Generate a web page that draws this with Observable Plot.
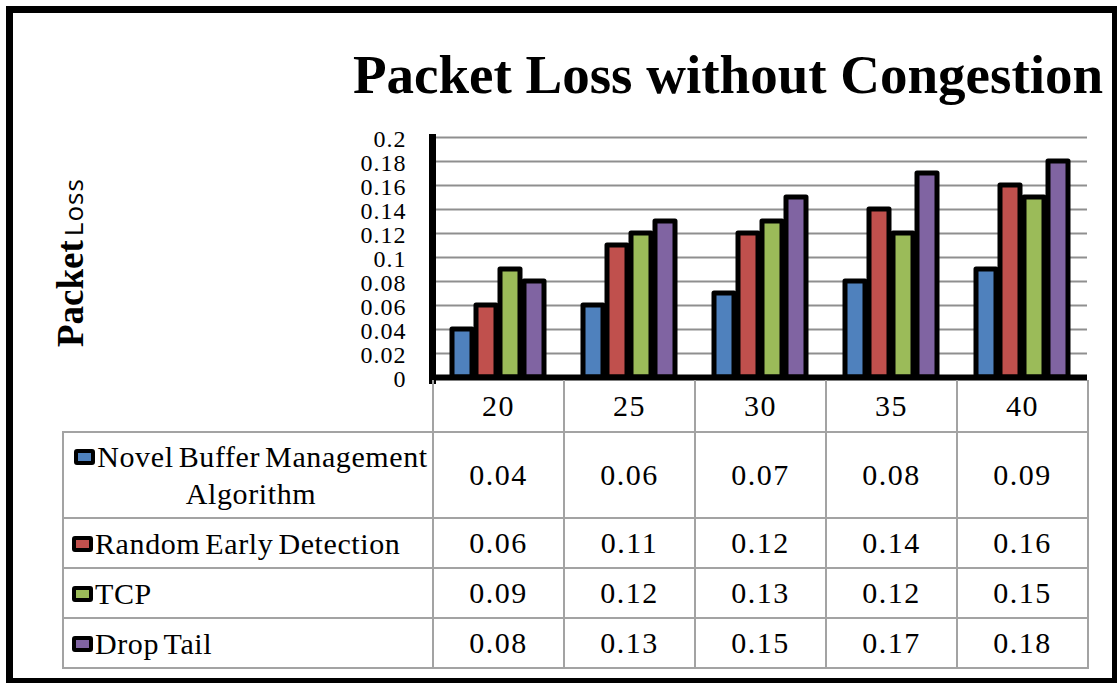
<!DOCTYPE html>
<html>
<head>
<meta charset="utf-8">
<script src="https://cdn.jsdelivr.net/npm/d3@7"></script>
<script src="https://cdn.jsdelivr.net/npm/@observablehq/plot@0.6"></script>
<style>
  html, body { margin: 0; padding: 0; background: #fff; }
  #root { position: relative; width: 1117px; height: 683px; overflow: hidden; background: #fff; }
  #root svg { position: absolute; left: 0; top: 0; }
  .frame { position: absolute; left: 6px; top: 6px; width: 1111px; height: 677px; box-sizing: border-box;
           border: 7px solid #000; border-right-width: 5px; border-bottom-width: 5px; pointer-events: none; }
  .title { position: absolute; left: 340px; width: 776px; top: 47px; text-align: center;
           font: bold 55px/1 "Liberation Serif", "Times New Roman", serif; color: #000; white-space: nowrap; }
  .ylabel { position: absolute; left: 52px; top: 347px; white-space: nowrap; transform: rotate(-90deg);
            transform-origin: 0 0; line-height: 1; color: #000; }
  .ylabel .a { font: bold 37px/1 "Liberation Serif", serif; }
  .ylabel .b { font: 26px/1 "Open Sans", sans-serif; letter-spacing: 1px; }
  table.dt { position: absolute; left: 62px; top: 380px; border-collapse: collapse; table-layout: fixed;
             font: 30px "Liberation Serif", "Times New Roman", serif; color: #000; }
  table.dt td { border: 2px solid #a3a3a3; padding: 0; text-align: center; vertical-align: middle; letter-spacing: 1.5px; }
  table.dt td.corner { border-top: none; border-left: none; }
  table.dt tr.head td { border-top: none; }
  table.dt td.lab { text-align: left; padding-left: 8px; word-spacing: -3px; line-height: 37px; letter-spacing: 0.6px; }
  table.dt td.lab.wrap { text-align: center; padding-left: 6px; padding-right: 0px; }
  .sw { display: inline-block; width: 13px; height: 8px; border: 4px solid #000; border-radius: 3px;
        vertical-align: 2px; margin-right: 2px; }
</style>
</head>
<body>
<div id="root"></div>
<script>
// ---- data ----
const categories = ["20", "25", "30", "35", "40"];
const seriesNames = ["Novel Buffer Management Algorithm", "Random Early Detection", "TCP", "Drop Tail"];
const novelBuffer = [0.04, 0.06, 0.07, 0.08, 0.09];
const randomEarly = [0.06, 0.11, 0.12, 0.14, 0.16];
const tcp = [0.09, 0.12, 0.13, 0.12, 0.15];
const dropTail = [0.08, 0.13, 0.15, 0.17, 0.18];
const seriesColors = ["#4F81BD", "#C0504D", "#9BBB59", "#8064A2"];
const yTicks = [0, 0.02, 0.04, 0.06, 0.08, 0.1, 0.12, 0.14, 0.16, 0.18, 0.2];
const titleText = "Packet Loss without Congestion";

const seriesValues = [novelBuffer, randomEarly, tcp, dropTail];
const data = [];
categories.forEach((c, i) => seriesNames.forEach((s, j) => data.push({category: c, series: s, value: seriesValues[j][i]})));

const root = document.getElementById("root");

const chart = Plot.plot({
  width: 1117,
  height: 683,
  marginTop: 137,
  marginBottom: 306,
  marginLeft: 432,
  marginRight: 30,
  style: {background: "transparent", fontFamily: "'Liberation Serif', 'Times New Roman', serif", color: "#000", overflow: "visible"},
  fx: {domain: categories, padding: 0, axis: null, label: null},
  x: {domain: seriesNames, paddingInner: 0.18, paddingOuter: 0.76, axis: null},
  y: {domain: [0, 0.2], axis: null},
  color: {domain: seriesNames, range: seriesColors},
  marks: [
    Plot.gridY(yTicks, {stroke: "#8f8f8f", strokeOpacity: 1, strokeWidth: 2}),
    Plot.barY(data, {fx: "category", x: "series", y: "value", fill: "series",
                     stroke: "#000", strokeWidth: 5, strokeLinejoin: "round"}),
    Plot.ruleY([0], {stroke: "#000", strokeWidth: 6}),
    Plot.frame({anchor: "left", facetAnchor: "left", stroke: "#000", strokeWidth: 7, insetBottom: -3}),
    Plot.axisY(yTicks, {tickSize: 0, tickPadding: 26, fontSize: 24, dy: 2, label: null,
                        tickFormat: d => String(d)})
  ]
});
chart.querySelectorAll('g[aria-label="y-axis tick label"] text').forEach(el => el.setAttribute("letter-spacing", "1"));
root.appendChild(chart);

// title
const t = document.createElement("div");
t.className = "title";
t.textContent = titleText;
root.appendChild(t);

// y label
const yl = document.createElement("div");
yl.className = "ylabel";
yl.innerHTML = '<span class="a">Packet</span> <span class="b">Loss</span>';
root.appendChild(yl);

// data table
const table = document.createElement("table");
table.className = "dt";
const colg = document.createElement("colgroup");
[370, 131, 131, 131, 131, 131].forEach(w => { const c = document.createElement("col"); c.style.width = w + "px"; colg.appendChild(c); });
table.appendChild(colg);
const head = document.createElement("tr");
head.className = "head";
head.style.height = "52px";
const corner = document.createElement("td");
corner.className = "corner";
head.appendChild(corner);
categories.forEach(c => { const td = document.createElement("td"); td.textContent = c; head.appendChild(td); });
table.appendChild(head);
const rowHeights = [86, 50, 50, 50];
seriesNames.forEach((s, j) => {
  const tr = document.createElement("tr");
  tr.style.height = rowHeights[j] + "px";
  const lab = document.createElement("td");
  lab.className = "lab" + (j === 0 ? " wrap" : "");
  const sw = document.createElement("span");
  sw.className = "sw";
  sw.style.background = seriesColors[j];
  lab.appendChild(sw);
  lab.appendChild(document.createTextNode(s));
  tr.appendChild(lab);
  seriesValues[j].forEach(v => { const td = document.createElement("td"); td.textContent = String(v); tr.appendChild(td); });
  table.appendChild(tr);
});
root.appendChild(table);

// outer frame
const fr = document.createElement("div");
fr.className = "frame";
root.appendChild(fr);
</script>
</body>
</html>
